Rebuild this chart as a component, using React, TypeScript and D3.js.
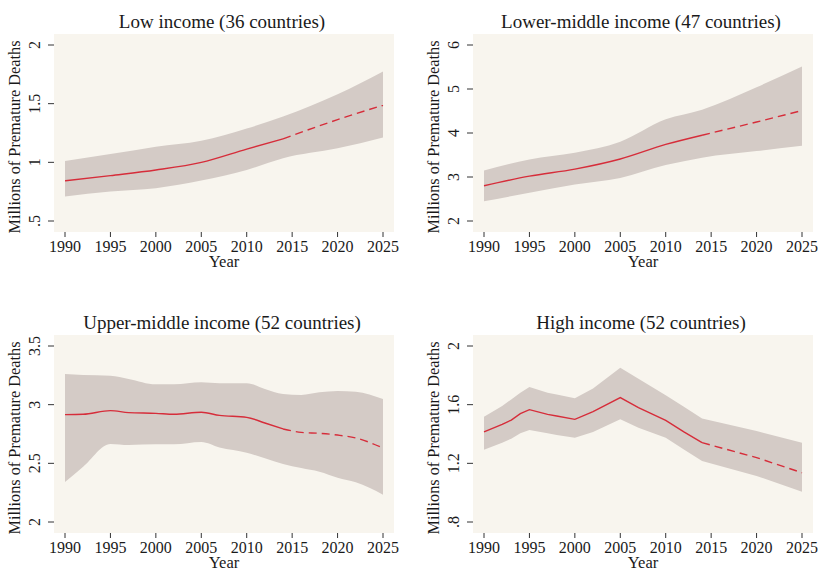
import React from "react";
import * as d3 from "d3";

// ---------- DATA ----------
const PROJ_START = 2014;
const xTicks = [1990, 1995, 2000, 2005, 2010, 2015, 2020, 2025];

// Low income
const lowTitle = "Low income (36 countries)";
const lowYears = [1990, 1995, 2000, 2005, 2010, 2014, 2020, 2025];
const lowMid = [0.842, 0.887, 0.935, 1.0, 1.113, 1.2, 1.364, 1.486];
const lowHi = [1.011, 1.07, 1.133, 1.184, 1.288, 1.39, 1.58, 1.774];
const lowLo = [0.709, 0.751, 0.78, 0.845, 0.935, 1.035, 1.119, 1.212];
const lowTicks = [0.5, 1, 1.5, 2];
const lowTickLabels = [".5", "1", "1.5", "2"];

// Lower-middle income
const lmTitle = "Lower-middle income (47 countries)";
const lmYears = [1990, 1995, 2000, 2005, 2010, 2014, 2020, 2025];
const lmMid = [2.8, 3.02, 3.18, 3.41, 3.74, 3.95, 4.25, 4.51];
const lmHi = [3.15, 3.4, 3.55, 3.8, 4.31, 4.53, 5.04, 5.51];
const lmLo = [2.45, 2.64, 2.83, 2.98, 3.27, 3.44, 3.59, 3.71];
const lmTicks = [2, 3, 4, 5, 6];
const lmTickLabels = ["2", "3", "4", "5", "6"];

// Upper-middle income
const umTitle = "Upper-middle income (52 countries)";
const umYears = [1990, 1992, 1995, 1997, 2000, 2002, 2005, 2007, 2010, 2012, 2014, 2016, 2018, 2020, 2022, 2025];
const umMid = [2.915, 2.918, 2.949, 2.932, 2.926, 2.918, 2.935, 2.909, 2.892, 2.844, 2.793, 2.764, 2.756, 2.741, 2.716, 2.631];
const umHi = [3.261, 3.253, 3.247, 3.219, 3.173, 3.173, 3.19, 3.182, 3.182, 3.134, 3.091, 3.082, 3.105, 3.116, 3.111, 3.048];
const umLo = [2.34, 2.47, 2.665, 2.656, 2.662, 2.662, 2.682, 2.636, 2.591, 2.543, 2.494, 2.46, 2.429, 2.378, 2.338, 2.233];
const umTicks = [2, 2.5, 3, 3.5];
const umTickLabels = ["2", "2.5", "3", "3.5"];

// High income
const hiTitle = "High income (52 countries)";
const hiYears = [1990, 1992, 1993, 1994, 1995, 1997, 1998, 2000, 2002, 2005, 2007, 2010, 2012, 2014, 2020, 2025];
const hiMid = [1.414, 1.466, 1.495, 1.539, 1.566, 1.534, 1.523, 1.5, 1.552, 1.648, 1.58, 1.493, 1.414, 1.341, 1.239, 1.136];
const hiHi = [1.518, 1.591, 1.636, 1.682, 1.72, 1.682, 1.67, 1.643, 1.711, 1.852, 1.777, 1.664, 1.586, 1.505, 1.42, 1.341];
const hiLo = [1.293, 1.341, 1.368, 1.405, 1.427, 1.405, 1.393, 1.375, 1.414, 1.5, 1.443, 1.375, 1.295, 1.216, 1.114, 1.007];
const hiTicks = [0.8, 1.2, 1.6, 2];
const hiTickLabels = [".8", "1.2", "1.6", "2"];

// ---------- STYLE ----------
const FONT = "'Liberation Serif', 'DejaVu Serif', serif";
const BG = "#f8f5ee";
const BAND = "#d4cbc6";
const LINE = "#d62d3a";
const TEXT = "#1a1a1a";

type PanelProps = {
  title: string;
  years: number[];
  mid: number[];
  hi: number[];
  lo: number[];
  ticks: number[];
  tickLabels: string[];
  left: number;
  top: number;
  smooth: boolean;
};

const PW = 340;
const PH = 198;
const PAD = 11;

function Panel(p: PanelProps) {
  const { left: L, top: T } = p;
  const x = d3.scaleLinear().domain([1990, 2025]).range([L + PAD, L + PW - PAD]);
  const y = d3
    .scaleLinear()
    .domain([p.ticks[0], p.ticks[p.ticks.length - 1]])
    .range([T + PH - PAD, T + PAD]);
  const curve = p.smooth ? d3.curveMonotoneX : d3.curveLinear;
  const idx = p.years.map((_, i) => i);
  const area = d3
    .area<number>()
    .x((i) => x(p.years[i]))
    .y0((i) => y(p.lo[i]))
    .y1((i) => y(p.hi[i]))
    .curve(curve);
  const line = d3
    .line<number>()
    .x((i) => x(p.years[i]))
    .y((i) => y(p.mid[i]))
    .curve(curve);
  const hist = idx.filter((i) => p.years[i] <= PROJ_START);
  const proj = idx.filter((i) => p.years[i] >= PROJ_START);
  const cx = L + PW / 2;
  const cy = T + PH / 2;
  return (
    <g>
      <rect x={L} y={T} width={PW} height={PH} fill={BG} />
      <path d={area(idx) || ""} fill={BAND} />
      <path d={line(hist) || ""} fill="none" stroke={LINE} strokeWidth={1.4} />
      <path d={line(proj) || ""} fill="none" stroke={LINE} strokeWidth={1.4} strokeDasharray="8,5" />
      <text x={cx - 2} y={T - 6} textAnchor="middle" fontSize={19} fontFamily={FONT} fill={TEXT}>
        {p.title}
      </text>
      {xTicks.map((t) => (
        <g key={t}>
          <line x1={x(t)} x2={x(t)} y1={T + PH} y2={T + PH + 5} stroke="#333" strokeWidth={1} />
          <text x={x(t)} y={T + PH + 20} textAnchor="middle" fontSize={16} fontFamily={FONT} fill={TEXT}>
            {t}
          </text>
        </g>
      ))}
      <text x={cx} y={T + PH + 35} textAnchor="middle" fontSize={16.5} fontFamily={FONT} fill={TEXT}>
        Year
      </text>
      {p.ticks.map((t, i) => (
        <g key={t}>
          <line x1={L - 6} x2={L} y1={y(t)} y2={y(t)} stroke="#333" strokeWidth={1} />
          <text
            transform={`translate(${L - 14},${y(t)}) rotate(-90)`}
            textAnchor="middle"
            fontSize={16}
            fontFamily={FONT}
            fill={TEXT}
          >
            {p.tickLabels[i]}
          </text>
        </g>
      ))}
      <text
        transform={`translate(${L - 34},${cy + 4}) rotate(-90)`}
        textAnchor="middle"
        fontSize={16.3}
        fontFamily={FONT}
        fill={TEXT}
      >
        Millions of Premature Deaths
      </text>
    </g>
  );
}

export default function App() {
  return (
    <svg
      width={820}
      height={573}
      style={{ position: "absolute", left: 0, top: 0, background: "#fff" }}
    >
      <Panel title={lowTitle} years={lowYears} mid={lowMid} hi={lowHi} lo={lowLo} ticks={lowTicks} tickLabels={lowTickLabels} left={54} top={34} smooth={true} />
      <Panel title={lmTitle} years={lmYears} mid={lmMid} hi={lmHi} lo={lmLo} ticks={lmTicks} tickLabels={lmTickLabels} left={473} top={34} smooth={true} />
      <Panel title={umTitle} years={umYears} mid={umMid} hi={umHi} lo={umLo} ticks={umTicks} tickLabels={umTickLabels} left={54} top={335} smooth={true} />
      <Panel title={hiTitle} years={hiYears} mid={hiMid} hi={hiHi} lo={hiLo} ticks={hiTicks} tickLabels={hiTickLabels} left={473} top={335} smooth={false} />
    </svg>
  );
}
